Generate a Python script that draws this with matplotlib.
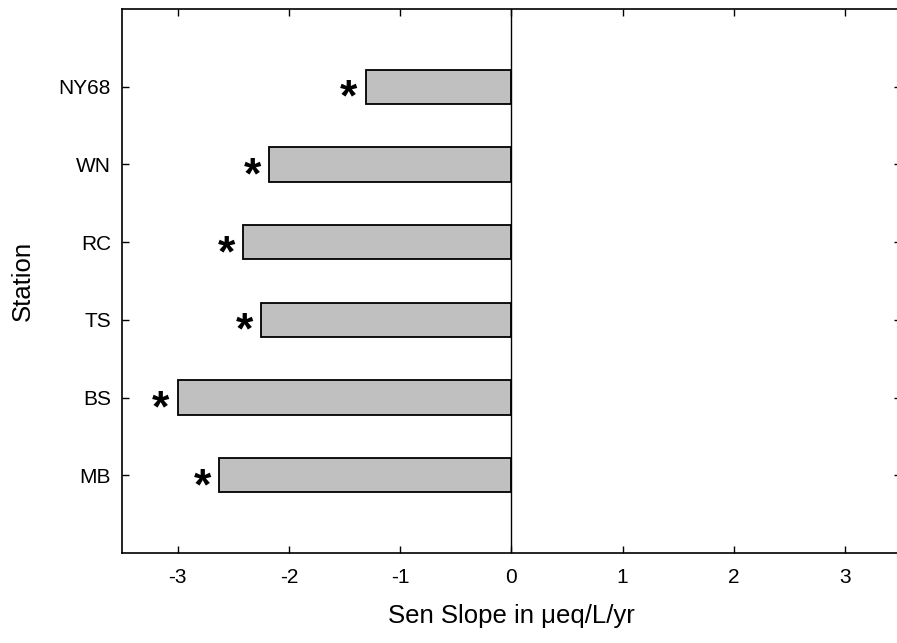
import matplotlib
matplotlib.use("Agg")
import matplotlib.pyplot as plt

# Sen slope per station (ueq/L/yr), bottom to top
stations = ["MB", "BS", "TS", "RC", "WN", "NY68"]
slopes = [-2.63, -3.00, -2.25, -2.41, -2.18, -1.31]
significant = [True, True, True, True, True, True]
xticks = [-3, -2, -1, 0, 1, 2, 3]

plt.rcParams["font.family"] = ["Liberation Sans", "DejaVu Sans"]

fig = plt.figure(figsize=(8.97, 6.43), dpi=100)
ax = fig.add_axes([0.136, 0.14, 0.868, 0.846])

pos = list(range(len(stations)))
ax.barh(pos, slopes, height=0.44, color="#c0c0c0",
        edgecolor="black", linewidth=1.3, zorder=2)
ax.axvline(0, color="black", linewidth=1.0, zorder=3)

# significance markers just left of each bar end
for y, v, sig in zip(pos, slopes, significant):
    if sig:
        ax.text(v - 0.15, y - 0.16, "*", ha="center", va="center",
                fontsize=32, fontweight="bold", color="black",
                family="Liberation Sans")

ax.set_xlim(-3.5, 3.5)
ax.set_ylim(-1, 6)
ax.set_xticks(xticks)
ax.set_xticklabels([str(t) for t in xticks])
ax.set_yticks(pos)
ax.set_yticklabels(stations)

ax.tick_params(direction="in", length=5, width=1.0, top=True, right=True,
               labelsize=15, pad=8)
ax.tick_params(axis="x", pad=11)
for s in ax.spines.values():
    s.set_linewidth(1.2)

ax.set_xlabel("Sen Slope in \u03bceq/L/yr", fontsize=18.5, labelpad=12)
ax.set_ylabel("Station", fontsize=18.5, labelpad=17)

fig.savefig("out.png", dpi=100)
